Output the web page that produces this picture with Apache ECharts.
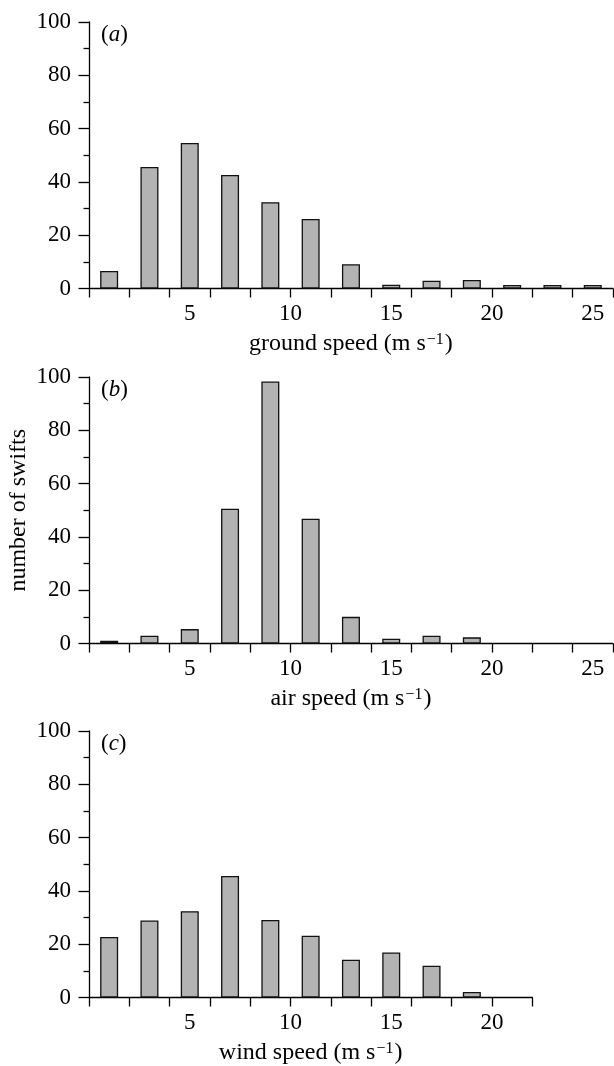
<!DOCTYPE html>
<html>
<head>
<meta charset="utf-8">
<script src="https://cdn.jsdelivr.net/npm/echarts@6/dist/echarts.min.js"></script>
<style>
  html, body { margin: 0; padding: 0; background: #fff; }
  #chart { width: 614px; height: 1066px; }
</style>
</head>
<body>
<div id="chart"></div>
<script>
// bin centres (m s-1) and number of swifts per bin
const groundBins = [1, 3, 5, 7, 9, 11, 13, 15, 17, 19, 21, 23, 25];
const groundCounts = [6.6, 45.6, 54.6, 42.6, 32.4, 26.1, 9.1, 1.4, 2.9, 3.2, 1.3, 1.3, 1.3];

const airBins = [1, 3, 5, 7, 9, 11, 13, 15, 17, 19];
const airCounts = [1.0, 2.9, 5.4, 50.6, 98.3, 46.8, 10.0, 1.8, 2.9, 2.3];

const windBins = [1, 3, 5, 7, 9, 11, 13, 15, 17, 19];
const windCounts = [22.7, 28.9, 32.4, 45.6, 29.1, 23.2, 14.2, 16.9, 11.9, 2.1];

// axis ticks and labels
const tickValsWide = [0, 2, 4, 6, 8, 10, 12, 14, 16, 18, 20, 22, 24, 26];
const tickValsNarrow = [0, 2, 4, 6, 8, 10, 12, 14, 16, 18, 20, 22];
const labelValsWide = [5, 10, 15, 20, 25];
const labelValsNarrow = [5, 10, 15, 20];

const FONT = 'Liberation Serif';
const INK = '#000';

const panels = [
    { tag: 'a', name: 'ground speed', bins: groundBins, counts: groundCounts, max: 26, ticks: tickValsWide, labels: labelValsWide, top: 22 },
    { tag: 'b', name: 'air speed', bins: airBins, counts: airCounts, max: 26, ticks: tickValsWide, labels: labelValsWide, top: 377 },
    { tag: 'c', name: 'wind speed', bins: windBins, counts: windCounts, max: 22, ticks: tickValsNarrow, labels: labelValsNarrow, top: 731 },
];

const PX_PER_UNIT = 20.15;

const chart = echarts.init(document.getElementById('chart'));

const option = {
    animation: false,
    title: panels.map((p) => ({
        text: '{p|(}{i|' + p.tag + '}{p|)}',
        left: 101,
        top: p.top + 1,
        padding: 0,
        textStyle: {
            rich: {
                p: { fontFamily: FONT, fontSize: 23, fontWeight: 'normal', color: INK },
                i: { fontFamily: FONT, fontSize: 23, fontWeight: 'normal', fontStyle: 'italic', color: INK },
            },
        },
    })),
    grid: panels.map((p) => ({
        left: 89,
        top: p.top,
        width: p.max * PX_PER_UNIT,
        height: 266.5,
        outerBoundsMode: 'none',
    })),
    xAxis: panels.map((p, i) => ({
        type: 'value',
        gridIndex: i,
        min: 0,
        max: p.max,
        name: '{t|' + p.name + ' (m s}{s|−1}{t|)}',
        nameLocation: 'middle',
        nameGap: 43,
        nameTextStyle: {
            rich: {
                t: { fontFamily: FONT, fontSize: 24, color: INK },
                s: { fontFamily: FONT, fontSize: 16, color: INK, verticalAlign: 'top', padding: [0, 1, 6, 1] },
            },
        },
        splitLine: { show: false },
        axisLine: { lineStyle: { color: INK, width: 1.3 } },
        axisTick: {
            customValues: p.ticks,
            length: 9,
            lineStyle: { color: INK, width: 1.3 },
        },
        axisLabel: {
            customValues: p.labels,
            margin: 14,
            fontFamily: FONT,
            fontSize: 23,
            color: INK,
        },
    })),
    yAxis: panels.map((p, i) => ({
        type: 'value',
        gridIndex: i,
        min: 0,
        max: 100,
        interval: 20,
        name: i === 1 ? 'number of swifts' : '',
        nameLocation: 'middle',
        nameGap: 58,
        nameMoveOverlap: false,
        nameTextStyle: { fontFamily: FONT, fontSize: 24, color: INK },
        splitLine: { show: false },
        axisLine: { show: true, lineStyle: { color: INK, width: 1.3 } },
        axisTick: { length: 10.5, lineStyle: { color: INK, width: 1.3 } },
        minorTick: { show: true, splitNumber: 2, length: 5.5, lineStyle: { color: INK, width: 1.3 } },
        axisLabel: { margin: 18, fontFamily: FONT, fontSize: 23, color: INK },
    })),
    series: panels.map((p, i) => ({
        type: 'bar',
        xAxisIndex: i,
        yAxisIndex: i,
        barWidth: 18,
        data: p.bins.map((b, k) => [b, p.counts[k]]),
        itemStyle: {
            color: '#b3b3b3',
            borderColor: '#111',
            borderWidth: 1.3,
        },
    })),
};

chart.setOption(option);
</script>
</body>
</html>
